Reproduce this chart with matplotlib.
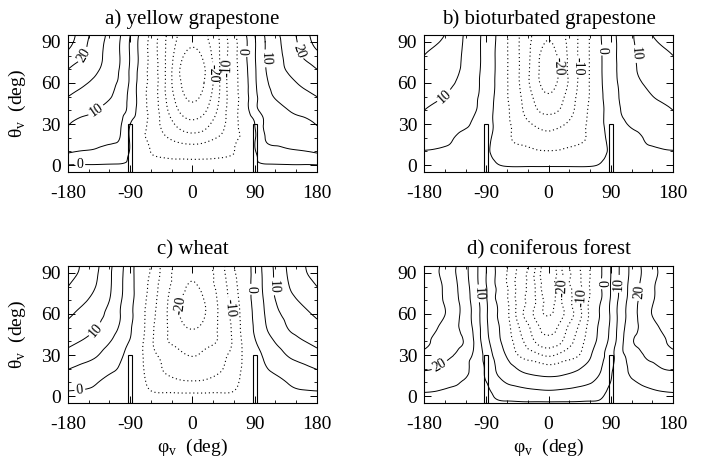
import numpy as np
import matplotlib.pyplot as plt
import matplotlib.tri as mtri
from matplotlib.patches import Rectangle

plt.rcParams['font.family'] = ['Liberation Serif', 'DejaVu Serif']
plt.rcParams['mathtext.fontset'] = 'custom'
plt.rcParams['mathtext.rm'] = 'Liberation Serif'
plt.rcParams['axes.unicode_minus'] = False

# viewing azimuth (0..180, mirrored about 0) and viewing zenith, deg
phi_half = [0, 20, 40, 60, 75, 90, 105, 120, 140, 160, 180]
theta = [-5, 0, 5, 10, 20, 30, 40, 50, 60, 70, 80, 90, 95]

# values, one row per theta
yellow_grapestone = [
    [-2, -2, -2, -2, -2, -2, -2, -2, -2, -2, -2],
    [-1, -1, -0.9, -0.8, -0.6, -0.4, -0.3, -0.3, -0.2, -0.2, -0.1],
    [-5.8, -5.5, -4.8, -3.6, -2.2, -0.5, 1.2, 1.8, 2.2, 2.5, 2.8],
    [-8.1, -7.6, -6.6, -5.1, -3, -0.3, 2.5, 3.5, 4.3, 4.8, 5.5],
    [-12.9, -11.8, -9.4, -6.3, -3.8, -0.5, 5, 6.2, 7, 7.6, 8],
    [-18.5, -16.3, -11.7, -6.7, -3.1, 0, 5.7, 6.6, 7.8, 9, 10.2],
    [-23, -20.1, -13.3, -6.4, -2.5, 3.3, 6.4, 8, 10.1, 11.3, 12.6],
    [-26, -22.5, -14.4, -6.7, -2.4, 3.6, 7.8, 10.4, 11.9, 13.5, 15],
    [-27, -24, -14.6, -6.5, -2.1, 4.1, 9.1, 11.4, 13.8, 15.8, 17.3],
    [-27.5, -24.4, -14.6, -6.6, -1.7, 4.3, 9.7, 12.7, 15.8, 17.8, 20],
    [-26.5, -22.9, -14.6, -6.5, -1.3, 4.6, 10, 13.1, 17, 20.5, 23.5],
    [-24, -21, -14.5, -6.5, -1.5, 4.5, 10, 13.5, 17.5, 22, 27],
    [-23, -20.5, -14, -6, -1, 5, 10.3, 13.8, 18, 22.5, 28],
]
bioturbated_grapestone = [
    [1.5, 1.5, 1.5, 1.5, 1.5, 1.5, 1.5, 1.5, 1.5, 1.5, 1.5],
    [-0.4, -0.4, -0.4, -0.3, 0.2, 0.8, 1.2, 1.4, 1.5, 1.5, 1.5],
    [-2.6, -2.5, -2.2, -1.6, -0.5, 0.8, 2, 2.5, 2.9, 3.1, 3.2],
    [-4.8, -4.5, -3.9, -2.8, -1.4, 0.8, 2.5, 3.5, 4.2, 4.6, 4.8],
    [-8.3, -7, -5.8, -4.2, -1.4, 1.1, 2.7, 3.6, 5.3, 6, 6.7],
    [-12.1, -10.6, -7.5, -4, -1, 1.8, 4, 5.6, 6.8, 7.6, 8.3],
    [-16, -14.1, -9.2, -4.2, -1, 2.1, 5.1, 6.1, 7.5, 8.8, 10],
    [-19.3, -15.9, -9.9, -4.7, -0.9, 2.6, 5.5, 7, 9, 10.5, 11.3],
    [-21.5, -17.8, -10.7, -4.7, -0.7, 3, 5.9, 8.2, 10.4, 11.5, 12.5],
    [-22.5, -17.8, -10.7, -4.7, -0.6, 3.2, 6.2, 8.9, 11.2, 12.5, 13.7],
    [-22, -17.5, -10.7, -4.7, -0.6, 3.2, 6.4, 9.2, 11.4, 13.2, 15],
    [-20.2, -16.6, -10.7, -4.7, -0.4, 3.2, 6.4, 9.3, 12.5, 15.3, 17],
    [-19.5, -16.3, -10.7, -4.7, -0.3, 3.3, 6.5, 9.4, 13.1, 16.5, 18],
]
wheat = [
    [-3, -3, -3, -3, -2.5, -2, -1.5, -1.2, -1, -1, -1],
    [-4, -4, -4, -4, -3, -2, -1.5, -1.2, -1, -1, -1],
    [-6.6, -6.5, -6.2, -5.3, -3.4, -2.3, -1.6, -1, -0.4, 0.1, 0.4],
    [-9.5, -9.2, -8.3, -6.3, -3.7, -2.5, -1.6, -0.8, 0.2, 1.2, 1.8],
    [-12.6, -11.6, -10.3, -7.5, -4.1, -2.2, -0.4, 0.8, 2.3, 3.7, 5.2],
    [-15.3, -13.5, -11.3, -8.2, -4.1, -1.4, 0.7, 2.9, 5.5, 7.2, 8.8],
    [-17.8, -16.5, -14.3, -8.9, -3.7, -0.3, 2.5, 5.3, 7.9, 9.8, 11],
    [-20.3, -18.3, -14.2, -8.5, -3.1, 0.5, 4.5, 7.2, 10.4, 12, 13.5],
    [-22, -19.7, -14, -8, -2.9, 0.9, 5.2, 8.8, 11.6, 13.8, 15.8],
    [-22, -19.2, -13.7, -7.3, -2.6, 1.3, 5.8, 10, 13.5, 15.9, 17.9],
    [-20.8, -17.6, -13.1, -6.5, -2.4, 1.6, 6.3, 10.7, 15, 17.5, 20],
    [-18.5, -16.8, -12.4, -5.5, -2.3, 1.6, 6.5, 10.8, 15.8, 19.2, 22],
    [-17.5, -16.3, -12.2, -5.4, -2.2, 1.7, 6.7, 11, 16.1, 19.5, 22.5],
]
coniferous_forest = [
    [10.5, 10.5, 10.5, 10.6, 10.8, 12, 12.5, 12.8, 13, 13.2, 13.5],
    [7.5, 7.7, 8, 8.6, 9.4, 11.5, 12.5, 13, 13.5, 14, 14.3],
    [4.6, 5, 5.6, 6.6, 8.2, 10.8, 12.3, 13.6, 14.6, 15.3, 15.7],
    [2.1, 2.6, 3.6, 4.7, 7, 10.1, 12.1, 14.3, 15.6, 16.5, 17.2],
    [-3.1, -2.2, -0.7, 1.8, 4.5, 9.3, 12.3, 16.5, 18.2, 19.6, 20.5],
    [-10.8, -8.3, -5.8, -0.6, 3.3, 8.1, 13.6, 17, 20.4, 22.3, 24],
    [-18, -15, -8.7, -2.5, 1.7, 6.7, 13.5, 19.3, 21.8, 24, 25.5],
    [-22.2, -17.4, -10.8, -3.2, 1, 6, 12.9, 18, 21.9, 25, 26.5],
    [-25.5, -20.9, -13.6, -4, 0.3, 5.7, 12.5, 17.6, 23.1, 26.5, 28],
    [-27, -19.4, -13, -4.4, -0.3, 5.5, 11.9, 17.3, 22.4, 26.2, 28],
    [-28, -19.6, -12.9, -4.7, -0.4, 5.2, 11.5, 16.8, 22.1, 26, 27.5],
    [-28.5, -20.2, -12.3, -5, -0.6, 5, 11.1, 16.2, 21.4, 25.3, 27.2],
    [-28.5, -20, -12.3, -5, -0.6, 5, 11.1, 16.2, 21.6, 25.4, 27],
]

titles = ["a) yellow grapestone", "b) bioturbated grapestone",
          "c) wheat", "d) coniferous forest"]
fields = [yellow_grapestone, bioturbated_grapestone, wheat, coniferous_forest]

# contour labels: (level, phi, theta)
label_spots = [
    [(20, -156, 80), (10, -141, 41), (0, -163, 1), (0, 78, 83),
     (10, 108, 78), (20, 146, 82), (-20, 28, 67), (-10, 52, 71)],
    [(10, -150, 50), (0, 77, 84), (-10, 45, 72), (-20, 10, 72), (10, 123, 81)],
    [(0, -163, 5), (10, -139, 48), (-20, -17, 66), (-10, 50, 64),
     (0, 82, 78), (10, 108, 80)],
    [(10, -100, 75), (20, -157, 22), (-20, 19, 79), (-10, 46, 72),
     (0, 75, 82), (10, 101, 82), (20, 128, 76)],
]

levels = [-30, -25, -20, -15, -10, -5, 0, 5, 10, 15, 20, 25, 30]

phi_full = np.array([-p for p in phi_half[:0:-1]] + phi_half, float)
P, T = np.meshgrid(phi_full, np.array(theta, float))
tri = mtri.Triangulation(P.ravel(), T.ravel())
refiner = mtri.UniformTriRefiner(tri)

fig = plt.figure(figsize=(7.06, 4.62), dpi=100)
boxes = [[0.0963, 0.6277, 0.3527, 0.2965], [0.6006, 0.6277, 0.3527, 0.2965],
         [0.0963, 0.1277, 0.3527, 0.2965], [0.6006, 0.1277, 0.3527, 0.2965]]

fmt = lambda v: f"{v:.0f}"

for i, ax_box in enumerate(boxes):
    ax = fig.add_axes(ax_box)
    z = np.array(fields[i], float)
    z = np.hstack([z[:, :0:-1], z])
    tri_f, z_f = refiner.refine_field(z.ravel(), subdiv=3)

    for lv in levels:
        if lv < 0:
            style = dict(linewidths=0.8, linestyles=[(0, (1, 2.5))])
        else:
            style = dict(linewidths=0.7, linestyles='solid')
        cs = ax.tricontour(tri_f, z_f, levels=[lv], colors='k', **style)
        spots = [(x, y) for l, x, y in label_spots[i] if l == lv]
        if spots:
            cs.clabel(manual=spots, inline=True, inline_spacing=2,
                      fmt=fmt, fontsize=10)

    for xc in (-90, 90):
        ax.add_patch(Rectangle((xc - 3, -5), 6, 35, facecolor='none',
                               edgecolor='k', linewidth=0.8, zorder=3))

    ax.set_xlim(-180, 180)
    ax.set_ylim(-5, 95)
    ax.set_xticks([-180, -90, 0, 90, 180])
    ax.set_xticklabels(['-180', '-90', '0', '90', '180'])
    ax.set_xticks(range(-180, 181, 30), minor=True)
    ax.set_yticks([0, 30, 60, 90])
    ax.set_yticks(range(0, 91, 10), minor=True)
    ax.tick_params(which='both', direction='in', top=True, right=True,
                   labelsize=14)
    ax.tick_params(which='major', length=5, width=0.7)
    ax.tick_params(which='minor', length=2.5, width=0.6)
    ax.tick_params(axis='x', pad=9)
    ax.tick_params(axis='y', pad=5)
    for s in ax.spines.values():
        s.set_linewidth(0.8)
    ax.set_title(titles[i], fontsize=15, pad=8)
    if i % 2 == 0:
        ax.set_ylabel(r"θ$_{\mathrm{v}}$  (deg)", fontsize=14)
        ax.yaxis.set_label_coords(-0.16, 0.5)
    if i >= 2:
        ax.set_xlabel(r"φ$_{\mathrm{v}}$  (deg)", fontsize=14)
        ax.xaxis.set_label_coords(0.5, -0.25)

fig.savefig("out.png", dpi=100)
